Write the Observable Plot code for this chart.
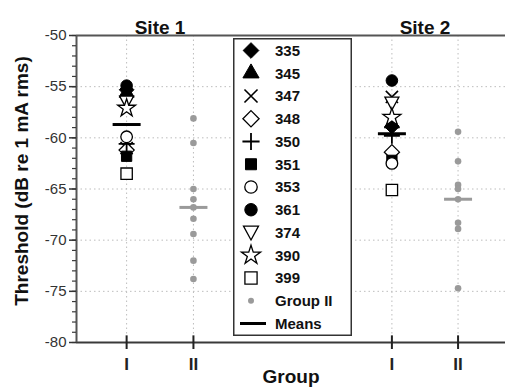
<!DOCTYPE html>
<html>
<head>
<meta charset="utf-8">
<script src="https://cdn.jsdelivr.net/npm/d3@7"></script>
<script src="https://cdn.jsdelivr.net/npm/@observablehq/plot@0.6"></script>
<style>
  html, body { margin: 0; padding: 0; background: #fff; }
  #chart { position: relative; width: 505px; height: 391px; font-family: "Liberation Sans", Arial, sans-serif; }
</style>
</head>
<body>
<div id="chart"></div>
<script>
// ---- data ----
const subjects = ["335", "345", "347", "348", "350", "351", "353", "361", "374", "390", "399"];
const site1GroupI = [-55.3, -55.6, -61.0, -61.2, -60.6, -61.8, -59.9, -54.9, -56.5, -57.1, -63.5];
const site2GroupI = [-58.9, -58.6, -56.0, -61.4, -59.8, -62.2, -62.5, -54.4, -56.6, -58.0, -65.1];
const site1GroupII = [-58.1, -60.5, -65.0, -66.0, -66.8, -67.9, -69.4, -72.0, -73.8];
const site2GroupII = [-59.4, -62.3, -64.6, -65.0, -66.0, -68.3, -68.9, -74.7];
const site1Means = [-58.7, -66.8];   // Group I, Group II
const site2Means = [-59.6, -66.0];
const siteNames = ["Site 1", "Site 2"];
const groupLabels = ["I", "II"];
const groupPositions = [1, 2, 4.97, 5.96];   // Site1 I, Site1 II, Site2 I, Site2 II
const yTicks = [-50, -55, -60, -65, -70, -75, -80];
const yLabel = "Threshold (dB re 1 mA rms)";
const xLabel = "Group";
const legendExtra = ["Group II", "Means"];

// ---- styles ----
const triangleDown = {
  draw(ctx, size) {
    const r = Math.sqrt(size / Math.PI);
    ctx.moveTo(0, r);
    ctx.lineTo(r, -0.85 * r);
    ctx.lineTo(-r, -0.85 * r);
    ctx.closePath();
  }
};
const hbar = {
  draw(ctx) { ctx.moveTo(-14, 0); ctx.lineTo(14, 0); }
};
const styleOf = {
  "335": {symbol: "diamond2", fill: "black", r: 6.6, sw: 1},
  "345": {symbol: "triangle", fill: "black", r: 5.6, sw: 1},
  "347": {symbol: "times", fill: "none", r: 5.6, sw: 1.6},
  "348": {symbol: "diamond2", fill: "white", r: 6.8, sw: 1.3},
  "350": {symbol: "plus", fill: "none", r: 5.2, sw: 1.8},
  "351": {symbol: "square", fill: "black", r: 5.8, sw: 1},
  "353": {symbol: "circle", fill: "white", r: 5.8, sw: 1.3},
  "361": {symbol: "circle", fill: "black", r: 5.8, sw: 1},
  "374": {symbol: triangleDown, fill: "white", r: 7, sw: 1.3},
  "390": {symbol: "star", fill: "white", r: 5.6, sw: 1.3},
  "399": {symbol: "square", fill: "white", r: 6.4, sw: 1.3}
};
const d3Sym = {
  diamond2: d3.symbolDiamond2, triangle: d3.symbolTriangle, times: d3.symbolTimes,
  plus: d3.symbolPlus, square: d3.symbolSquare, circle: d3.symbolCircle, star: d3.symbolStar
};
const FONT = '"Liberation Sans", Arial, sans-serif';
const axisColor = "#3a3a3a";
const gridStyle = {stroke: "#bdbdbd", strokeOpacity: 1, strokeDasharray: "1.5,3", strokeWidth: 1};

// ---- marks ----
const marks = [];
marks.push(Plot.gridY(yTicks.slice(1, -1), gridStyle));
marks.push(Plot.gridX(groupPositions, gridStyle));
marks.push(Plot.ruleY([yTicks[0]], {stroke: "#555", strokeWidth: 2}));
marks.push(Plot.ruleY([yTicks[yTicks.length - 1]], {stroke: axisColor, strokeWidth: 2}));
marks.push(Plot.ruleX([0.25], {stroke: "#555", strokeWidth: 2}));
// minor y ticks
marks.push(Plot.axisY(d3.range(-80, -49, 1), {tickSize: 4, tickFormat: () => "", label: null, stroke: axisColor, strokeWidth: 1.2}));
marks.push(Plot.axisY(yTicks, {tickSize: 7, tickPadding: 3, label: null, fontSize: 15, color: "#333", strokeWidth: 1.5,
  tickFormat: d => String(d)}));
// x ticks (outside + inside part)
marks.push(Plot.axisX(groupPositions, {tickSize: 7, tickPadding: 8, label: null, fontSize: 17, fontWeight: "bold",
  color: "#222", strokeWidth: 2, tickFormat: d => groupLabels[groupPositions.indexOf(d) % 2]}));
marks.push(Plot.ruleX(groupPositions, {y1: -80, y2: -79.35, stroke: "#222", strokeWidth: 2}));

// Group II dots
marks.push(Plot.dot(site1GroupII, {x: groupPositions[1], y: d => d, r: 3.3, fill: "#9a9a9a", stroke: "none"}));
marks.push(Plot.dot(site2GroupII, {x: groupPositions[3], y: d => d, r: 3.3, fill: "#9a9a9a", stroke: "none"}));
// Group II means
marks.push(Plot.dot([site1Means[1]], {x: groupPositions[1], y: d => d, symbol: hbar, stroke: "#9a9a9a", strokeWidth: 3}));
marks.push(Plot.dot([site2Means[1]], {x: groupPositions[3], y: d => d, symbol: hbar, stroke: "#9a9a9a", strokeWidth: 3}));

// Group I subjects
subjects.forEach((s, i) => {
  const st = styleOf[s];
  const pts = [];
  if (site1GroupI[i] != null) pts.push({x: groupPositions[0], y: site1GroupI[i]});
  if (site2GroupI[i] != null) pts.push({x: groupPositions[2], y: site2GroupI[i]});
  marks.push(Plot.dot(pts, {x: "x", y: "y", symbol: st.symbol, r: st.r, fill: st.fill,
    stroke: "black", strokeWidth: st.sw}));
});
// Group I means
marks.push(Plot.dot([site1Means[0]], {x: groupPositions[0], y: d => d, symbol: hbar, stroke: "black", strokeWidth: 3}));
marks.push(Plot.dot([site2Means[0]], {x: groupPositions[2], y: d => d, symbol: hbar, stroke: "black", strokeWidth: 3}));

// titles
marks.push(Plot.text(siteNames, {x: (d, i) => (groupPositions[2 * i] + groupPositions[2 * i + 1]) / 2,
  text: d => d, frameAnchor: "top", dy: -15, fontSize: 19, fontWeight: "bold", fill: "#111"}));
marks.push(Plot.text([yLabel], {text: d => d, frameAnchor: "left", textAnchor: "middle", rotate: -90, dx: -55, dy: -8,
  fontSize: 19, fontWeight: "bold", fill: "#111"}));
marks.push(Plot.text([xLabel], {text: d => d, frameAnchor: "bottom", dy: 40, fontSize: 19, fontWeight: "bold", fill: "#111"}));

const chart = Plot.plot({
  width: 505, height: 391,
  marginLeft: 76, marginRight: 0, marginTop: 35, marginBottom: 49,
  style: {fontFamily: FONT, background: "white", overflow: "visible"},
  x: {domain: [0.25, 6.67], axis: null},
  y: {domain: [-80, -50], axis: null},
  marks
});
const root = d3.select("#chart");
root.node().appendChild(chart);

// ---- legend (overlay) ----
const LW = 119, LH = 298;
const leg = root.append("svg").attr("width", LW).attr("height", LH)
  .style("position", "absolute").style("left", "233px").style("top", "38px").style("overflow", "visible");
leg.append("rect").attr("x", 0.75).attr("y", 0.75).attr("width", LW - 1.5).attr("height", LH - 1.5)
  .attr("fill", "white").attr("stroke", "#333").attr("stroke-width", 1.5);
const rowH = 22.75, row0 = 12.5;
const labels = subjects.concat(legendExtra);
labels.forEach((lab, i) => {
  const cy = row0 + i * rowH;
  const g = leg.append("g").attr("transform", `translate(18,${cy})`);
  if (i < subjects.length) {
    const st = styleOf[lab];
    const type = typeof st.symbol === "string" ? d3Sym[st.symbol] : st.symbol;
    g.append("path").attr("d", d3.symbol(type, Math.PI * st.r * st.r * 1.15)())
      .attr("fill", st.fill).attr("stroke", "black").attr("stroke-width", st.sw);
  } else if (lab === legendExtra[0]) {
    g.append("circle").attr("r", 3).attr("fill", "#9a9a9a");
  } else {
    g.append("line").attr("x1", -11).attr("x2", 15).attr("stroke", "black").attr("stroke-width", 3);
  }
  leg.append("text").attr("x", 42).attr("y", cy).attr("dy", "0.35em")
    .attr("font-family", FONT).attr("font-size", 15).attr("font-weight", "bold").attr("fill", "#111")
    .text(lab);
});
</script>
</body>
</html>
